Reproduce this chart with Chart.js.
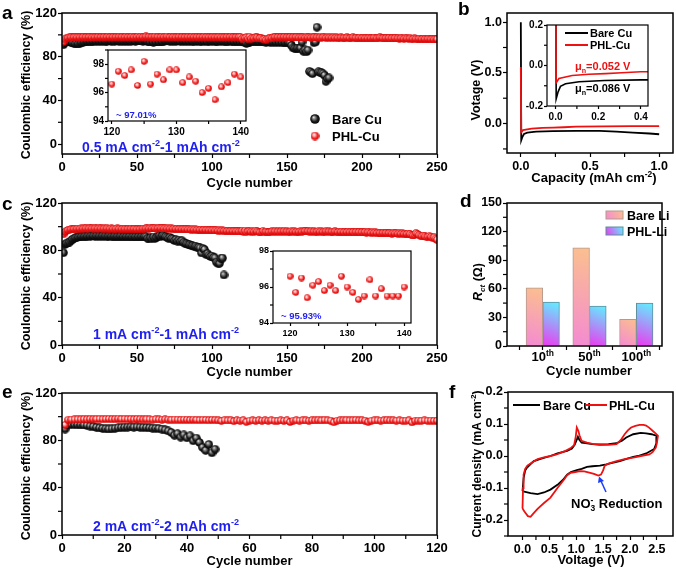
<!DOCTYPE html>
<html>
<head>
<meta charset="utf-8">
<title>Coulombic efficiency of Bare Cu and PHL-Cu</title>
<script src="https://cdn.jsdelivr.net/npm/chart.js@4.4.1/dist/chart.umd.min.js"></script>
<style>
  html, body { margin: 0; padding: 0; background: #fff; }
  #fig { position: relative; width: 676px; height: 571px; overflow: hidden; background: #fff; }
  #fig canvas { position: absolute; left: 0; top: 0; }
</style>
</head>
<body>
<div id="fig">
  <canvas id="chartA" width="676" height="571"></canvas>
  <canvas id="chartB" width="676" height="571"></canvas>
  <canvas id="chartC" width="676" height="571"></canvas>
  <canvas id="chartD" width="676" height="571"></canvas>
  <canvas id="chartE" width="676" height="571"></canvas>
  <canvas id="chartF" width="676" height="571"></canvas>
  <canvas id="insetA" width="676" height="571"></canvas>
  <canvas id="insetB" width="676" height="571"></canvas>
  <canvas id="insetC" width="676" height="571"></canvas>
</div>
<script>
// ---- panel a : 0.5 mA cm-2, 1 mAh cm-2 (CE %, per cycle starting at 1)
const phlCuA = [
  93.5, 95.8, 96.9, 97.3, 97.6, 97.8, 97.6, 97.9, 98.0, 97.7,
  98.0, 97.8, 97.9, 98.1, 97.8, 98.0, 97.9, 98.1, 98.0, 97.8,
  98.1, 97.9, 98.0, 98.2, 97.9, 98.1, 98.0, 98.2, 97.9, 98.1,
  98.3, 98.0, 98.2, 98.1, 97.9, 98.2, 98.0, 98.3, 98.1, 98.2,
  97.9, 98.1, 98.3, 98.0, 98.2, 98.1, 98.4, 98.0, 98.2, 98.1,
  98.5, 98.2, 98.4, 98.1, 98.3, 98.6, 98.2, 98.4, 98.1, 98.3,
  98.2, 98.5, 98.1, 98.3, 98.0, 98.2, 98.4, 98.1, 98.3, 98.5,
  98.2, 98.0, 98.3, 98.1, 98.2, 97.9, 98.1, 98.3, 98.0, 98.2,
  97.9, 98.1, 98.0, 98.2, 97.9, 98.1, 98.3, 98.0, 98.2, 98.1,
  97.9, 98.2, 98.0, 98.1, 98.3, 98.0, 98.2, 97.9, 98.1, 98.0,
  98.2, 97.9, 98.1, 98.0, 98.2, 97.8, 98.1, 97.9, 98.0, 98.2,
  97.9, 98.1, 98.3, 98.0, 97.9, 98.1, 98.0, 98.2, 97.9,
  96.6, 97.5, 97.2, 97.6, 96.5, 98.2, 96.6, 97.3, 96.9, 97.6,
  97.6, 96.7, 97.1, 96.8, 96.0, 96.3, 95.5, 96.4, 96.7, 97.3, 97.1,
  97.9, 98.1, 97.8, 98.0, 97.7, 98.0, 97.8, 98.1, 97.7, 97.9,
  97.8, 98.0, 97.6, 97.9, 97.7, 98.0, 97.8, 97.6, 97.9, 97.7,
  97.8, 97.5, 97.9, 97.6, 97.8, 97.5, 97.7, 97.9, 97.6, 97.8,
  97.5, 97.7, 97.4, 97.8, 97.6, 97.3, 97.7, 97.5, 97.6, 97.4,
  97.7, 97.3, 97.6, 97.4, 97.2, 97.6, 97.3, 97.5, 97.2, 97.6,
  97.3, 97.1, 97.5, 97.8, 97.2, 97.4, 97.0, 97.3, 97.5, 97.1,
  97.3, 97.0, 97.2, 96.9, 97.3, 97.0, 97.2, 97.5, 97.1, 96.9,
  97.4, 97.6, 97.2, 97.0, 96.8, 97.1, 96.9, 97.2, 96.7, 97.0,
  96.8, 97.1, 96.7, 96.9, 96.6, 97.0, 96.8, 96.5, 96.9, 96.7,
  96.5, 96.8, 96.6, 96.4, 96.7, 96.5, 96.3, 96.6, 96.4, 96.2,
  96.5, 96.3, 96.1, 96.4, 96.2, 96.0, 96.3, 95.9, 96.1, 96.0
];
const bareCuA = [
  91.0, 93.0, 93.8, 94.0, 93.6, 93.2, 92.8, 92.3, 92.0, 92.4,
  92.0, 92.5, 92.9, 93.2, 93.5, 93.8, 94.0, 94.2, 94.0, 94.3,
  94.1, 94.4, 94.2, 94.5, 94.3, 94.6, 94.2, 94.5, 94.3, 94.1,
  94.4, 94.6, 94.3, 94.5, 94.2, 94.4, 94.7, 94.3, 94.5, 94.2,
  94.4, 94.1, 94.5, 94.3, 94.6, 94.2, 94.4, 94.7, 94.3, 94.5,
  94.8, 94.4, 94.6, 94.3, 94.9, 94.5, 94.2, 93.8, 93.5, 93.9,
  93.4, 93.8, 93.5, 94.0, 93.6, 94.2, 93.9, 94.3, 94.6, 94.4,
  94.7, 94.3, 94.6, 94.2, 94.5, 94.3, 94.6, 94.4, 94.1, 94.5,
  94.3, 94.6, 94.2, 94.4, 94.1, 94.5, 94.3, 94.0, 94.4, 94.2,
  94.5, 94.1, 94.3, 94.6, 94.2, 94.4, 94.0, 94.3, 94.5, 94.2,
  94.4, 94.1, 94.3, 94.0, 94.4, 94.2, 94.5, 94.1, 94.3, 94.0,
  94.2, 94.4, 94.1, 94.3, 93.9, 94.2, 94.0, 94.3, 93.8, 94.1,
  93.6, 92.8, 92.2, 92.6, 93.4, 94.0, 94.2, 93.9, 94.1, 93.8,
  94.0, 93.7, 94.1, 93.8, 93.5, 92.9, 93.6, 93.9, 93.4, 93.8,
  93.3, 93.7, 93.2, 93.6, 93.1, 93.5, 93.0, 93.4, 92.9, 93.3,
  93.0, 92.6, 90.2, 88.2, 87.8, 87.6, 87.9, 87.5, 88.0, 93.4,
  85.0, 86.2, 84.5, 86.0, 66.6, 65.8, 64.5, 92.8, 93.5, 107.0,
  66.2, 65.7, 65.3, 64.5, 63.0, 57.5, 59.8, 60.6
];

// ---- panel b : voltage-capacity, first Li deposition
const capBare = [0, 0.003, 0.012, 0.023, 0.047, 0.11, 0.23, 0.4, 0.57, 0.69, 0.81, 0.93, 1.0];
const voltBare = [1.0, -0.165, -0.13, -0.103, -0.09, -0.08, -0.074, -0.071, -0.072, -0.08, -0.09, -0.098, -0.105];
const capPhl = [0, 0.003, 0.016, 0.078, 0.156, 0.234, 0.31, 0.4, 0.6, 0.8, 1.0];
const voltPhl = [0.557, -0.085, -0.064, -0.049, -0.043, -0.04, -0.036, -0.031, -0.028, -0.026, -0.026];

// ---- panel c : 1 mA cm-2, 1 mAh cm-2
const phlCuC = [
  93.5, 95.5, 96.6, 97.2, 97.5, 97.8, 98.0, 98.1, 98.2, 98.3,
  98.4, 98.3, 98.5, 98.4, 98.5, 98.6, 98.4, 98.5, 98.6, 98.5,
  98.4, 98.6, 98.5, 98.4, 98.6, 98.5, 98.3, 98.5, 98.4, 98.6,
  98.4, 98.3, 98.5, 98.2, 98.4, 98.3, 98.5, 98.2, 98.3, 98.1,
  98.3, 98.2, 98.0, 98.2, 98.1, 98.3, 98.0, 98.2, 98.1, 97.9,
  98.1, 98.0, 98.2, 98.4, 98.3, 98.5, 98.6, 98.4, 98.7, 98.5,
  98.8, 98.6, 98.4, 98.7, 98.9, 98.6, 98.8, 98.5, 98.7, 98.4,
  98.6, 98.3, 98.5, 98.2, 98.4, 98.1, 98.3, 98.0, 98.2, 97.9,
  98.1, 97.8, 98.0, 97.7, 97.9, 97.6, 97.8, 97.5, 97.7, 97.4,
  97.6, 97.3, 97.5, 97.2, 97.4, 97.1, 97.3, 97.0, 97.2, 96.9,
  97.1, 96.8, 97.0, 96.7, 96.9, 96.6, 96.8, 96.5, 96.7, 96.4,
  96.6, 96.3, 96.5, 96.2, 96.4, 96.1, 96.3, 96.0, 96.2,
  96.6, 95.7, 96.5, 95.4, 96.1, 96.3, 95.8, 96.1, 95.8, 96.6,
  96.0, 95.7, 95.3, 95.5, 96.4, 95.5, 95.9, 95.5, 95.5, 95.5, 96.0,
  95.9, 96.1, 95.8, 96.0, 95.7, 96.1, 95.9, 96.2, 95.8, 96.0,
  95.7, 95.9, 96.1, 95.8, 96.0, 95.6, 95.9, 95.7, 96.0, 95.8,
  96.1, 96.3, 96.0, 96.2, 95.9, 96.1, 95.8, 96.0, 95.7, 95.9,
  96.2, 95.8, 96.0, 95.7, 95.9, 96.1, 95.8, 96.0, 95.6, 95.9,
  95.7, 96.0, 95.8, 95.5, 95.9, 95.6, 95.8, 95.4, 95.7, 95.5,
  95.8, 95.4, 95.7, 95.5, 95.2, 95.6, 95.3, 95.5, 95.1, 95.4,
  95.2, 95.5, 95.0, 95.3, 95.1, 94.8, 95.2, 94.9, 95.1, 94.7,
  95.0, 94.8, 94.5, 94.9, 94.6, 94.8, 94.4, 94.7, 94.5, 94.2,
  94.6, 94.3, 94.5, 94.1, 94.4, 94.0, 94.3, 93.9, 94.1, 93.8,
  94.2, 93.7, 93.0, 92.6, 93.2, 94.5, 93.8, 92.9, 92.4, 92.0,
  92.5, 91.8, 91.2, 91.6, 92.0, 91.4, 90.6, 91.0, 89.8, 89.0
];
const bareCuC = [
  78.0, 85.0, 86.0, 86.3, 87.0, 88.2, 89.3, 90.0, 90.6, 91.0,
  91.3, 91.6, 91.8, 91.9, 92.0, 92.1, 92.0, 92.2, 92.1, 92.3,
  92.2, 92.0, 92.3, 92.1, 92.2, 92.0, 92.3, 92.1, 92.2, 91.9,
  92.1, 92.2, 92.0, 91.8, 92.1, 91.9, 92.0, 91.8, 92.1, 91.9,
  91.7, 92.0, 91.8, 91.6, 91.9, 91.7, 91.5, 91.8, 91.6, 91.4,
  91.7, 91.5, 91.8, 91.6, 91.9, 91.5, 90.3, 89.8, 90.6, 89.9,
  91.2, 90.0, 90.8, 92.0, 92.5, 91.8, 92.6, 92.2, 91.6, 91.0,
  90.2, 91.0, 90.0, 89.5, 88.3, 89.0, 87.8, 88.6, 87.5, 88.1,
  86.8, 86.0, 85.6, 85.0, 84.8, 84.2, 84.0, 83.4, 83.6, 82.8,
  82.6, 82.0, 77.8, 81.5, 80.6, 76.5, 77.2, 75.8, 74.8, 75.2,
  74.0, 73.6, 70.0, 69.2, 69.0, 72.8, 73.5, 59.2
];

// ---- panel d : charge-transfer resistance
const rctCycles = ['10th', '50th', '100th'];
const rctBareLi = [61, 103, 28];
const rctPhlLi = [46, 42, 45];

// ---- panel e : 2 mA cm-2, 2 mAh cm-2
const phlCuE = [
  93.0, 97.4, 97.6, 97.7, 97.8, 97.7, 97.9, 97.8, 98.0, 97.9,
  98.0, 98.1, 97.9, 98.0, 98.1, 97.9, 98.0, 98.2, 98.0, 98.1,
  97.9, 98.0, 97.8, 98.0, 97.9, 97.7, 97.9, 97.8, 97.6, 97.8,
  97.7, 97.5, 97.7, 97.6, 97.4, 97.6, 97.5, 97.3, 97.5, 97.4,
  97.2, 97.4, 97.3, 97.1, 97.3, 97.2, 97.0, 97.2, 97.1, 96.9,
  96.4, 97.0, 96.8, 96.9, 96.2, 96.8, 96.7, 96.9, 95.6, 96.7,
  96.8, 96.6, 96.9, 96.7, 96.8, 96.6, 96.9, 96.7, 96.5, 96.8,
  96.6, 96.8, 95.5, 96.7, 96.9, 96.7, 96.9, 96.8, 96.6, 96.9,
  96.8, 97.0, 96.8, 97.1, 96.9, 96.7, 95.3, 96.6, 96.8, 96.9,
  97.0, 96.8, 96.9, 97.1, 96.8, 96.9, 96.7, 95.6, 96.6, 96.8,
  96.9, 96.7, 96.8, 97.0, 96.8, 96.9, 96.7, 96.8, 96.6, 96.7,
  96.8, 95.2, 96.5, 96.7, 96.6, 96.8, 96.6, 96.7, 96.5, 96.6
];
const bareCuE = [
  89.5, 93.2, 93.4, 93.3, 93.2, 93.1, 93.0, 92.6, 92.1, 91.6,
  91.0, 90.5, 90.1, 89.8, 89.6, 89.8, 90.2, 90.6, 90.9, 91.1,
  91.2, 91.3, 91.2, 91.3, 91.1, 91.0, 90.8, 90.6, 90.3, 90.2,
  90.0, 89.5, 88.8, 87.9, 86.6, 84.3, 85.6, 82.7, 84.6, 82.1,
  83.8, 79.6, 81.9, 78.2, 74.0, 71.5, 76.5, 69.5, 72.5
];

// ---- panel f : CV, voltage (V) / current density (mA cm-2)
const cvVoltBare = [0.0, 0.02, 0.05, 0.08, 0.15, 0.21, 0.35, 0.52, 0.65, 0.83, 0.92, 0.97, 1.0, 1.03, 1.06, 1.1, 1.17, 1.3, 1.44, 1.6, 1.75, 1.85, 1.93, 2.06, 2.2, 2.3, 2.4, 2.5,
  2.49, 2.45, 2.3, 2.15, 2.06, 1.95, 1.81, 1.65, 1.56, 1.44, 1.3, 1.2, 1.1, 1.01, 0.9, 0.83, 0.75, 0.65, 0.52, 0.4, 0.28, 0.15, 0.05, 0.0];
const cvCurBare = [-0.11, -0.07, -0.045, -0.037, -0.025, -0.016, -0.008, 0.0, 0.008, 0.016, 0.023, 0.035, 0.047, 0.06, 0.05, 0.042, 0.04, 0.037, 0.036, 0.037, 0.04, 0.048, 0.058, 0.068, 0.072, 0.071, 0.068, 0.063,
  0.04, 0.022, 0.008, 0.0, -0.003, -0.008, -0.016, -0.022, -0.026, -0.03, -0.032, -0.034, -0.04, -0.044, -0.05, -0.058, -0.075, -0.09, -0.105, -0.114, -0.119, -0.116, -0.112, -0.11];
const cvVoltPhl = [0.0, 0.01, 0.02, 0.05, 0.09, 0.18, 0.28, 0.4, 0.52, 0.62, 0.71, 0.8, 0.89, 0.96, 0.99, 1.01, 1.04, 1.06, 1.1, 1.2, 1.3, 1.44, 1.6, 1.75, 1.83, 1.9, 1.96, 2.02, 2.1, 2.18, 2.25, 2.3, 2.36, 2.42, 2.48, 2.52,
  2.5, 2.48, 2.42, 2.36, 2.2, 2.06, 1.9, 1.75, 1.6, 1.53, 1.5, 1.46, 1.41, 1.33, 1.26, 1.15, 1.07, 0.98, 0.89, 0.83, 0.77, 0.65, 0.52, 0.4, 0.28, 0.2, 0.15, 0.1, 0.06, 0.02, 0.0];
const cvCurPhl = [-0.163, -0.1, -0.058, -0.04, -0.03, -0.02, -0.01, -0.004, 0.0, 0.004, 0.01, 0.016, 0.024, 0.034, 0.06, 0.089, 0.078, 0.065, 0.047, 0.042, 0.038, 0.035, 0.035, 0.037, 0.05, 0.068, 0.08, 0.089, 0.094, 0.097, 0.097, 0.095, 0.088, 0.079, 0.07, 0.063,
  0.04, 0.026, 0.012, 0.005, 0.0, -0.005, -0.01, -0.016, -0.024, -0.03, -0.045, -0.058, -0.061, -0.056, -0.053, -0.048, -0.047, -0.05, -0.053, -0.06, -0.074, -0.1, -0.13, -0.147, -0.165, -0.18, -0.19, -0.188, -0.179, -0.17, -0.163];

// ---- axis ticks (all tick marks, and the ones that carry a label)
const ceTicks = [0, 20, 40, 60, 80, 100, 120];
const ceLabels = [0, 40, 80, 120];
const cyc250Ticks = [0, 25, 50, 75, 100, 125, 150, 175, 200, 225, 250];
const cyc250Labels = [0, 50, 100, 150, 200, 250];
const cyc120Ticks = [0, 10, 20, 30, 40, 50, 60, 70, 80, 90, 100, 110, 120];
const cyc120Labels = [0, 20, 40, 60, 80, 100, 120];
const insetCycTicks = [120, 125, 130, 135, 140];
const insetCycLabels = [120, 130, 140];
const voltTicksB = [-0.25, 0, 0.25, 0.5, 0.75, 1.0];
const voltLabelsB = [0, 0.5, 1.0];
const capTicksB = [0, 0.25, 0.5, 0.75, 1.0];
const capLabelsB = [0, 0.5, 1.0];
const rctTicks = [0, 15, 30, 45, 60, 75, 90, 105, 120, 135, 150];
const rctLabels = [0, 30, 60, 90, 120, 150];
const cvVoltTicks = [0, 0.25, 0.5, 0.75, 1.0, 1.25, 1.5, 1.75, 2.0, 2.25, 2.5];
const cvVoltLabels = [0, 0.5, 1.0, 1.5, 2.0, 2.5];
const cvCurTicks = [-0.25, -0.2, -0.15, -0.1, -0.05, 0, 0.05, 0.1, 0.15, 0.2];
const cvCurLabels = [-0.2, -0.1, 0, 0.1, 0.2];

const FONT = '"Liberation Sans", Arial, Helvetica, sans-serif';
const BLUE = '#1f1ff0';
const RED = '#ee1111';
const W = 676, H = 571;

Chart.defaults.font.family = FONT;
Chart.defaults.font.weight = 'bold';
Chart.defaults.font.size = 13;
Chart.defaults.color = '#000';
Chart.defaults.animation = false;
Chart.defaults.responsive = false;
Chart.defaults.plugins.legend.display = false;
Chart.defaults.plugins.tooltip.enabled = false;

// shaded ball markers like the Origin "sphere" symbol
function sphere(d, stops) {
  const c = document.createElement('canvas');
  c.width = c.height = d;
  const g = c.getContext('2d');
  const r = d / 2;
  const grad = g.createRadialGradient(r * 0.7, r * 0.62, 0, r, r, r);
  stops.forEach(([o, col]) => grad.addColorStop(o, col));
  g.fillStyle = grad;
  g.beginPath();
  g.arc(r, r, r - 0.2, 0, Math.PI * 2);
  g.fill();
  return c;
}
const blackStops = [[0, '#f4f4f4'], [0.28, '#8a8a8a'], [0.65, '#1c1c1c'], [1, '#000']];
const redStops = [[0, '#ffffff'], [0.3, '#ffb4b4'], [0.68, '#f21a1a'], [1, '#cc0000']];
const ballK = sphere(9, blackStops);
const ballR = sphere(8, redStops);
const ballRs = sphere(7, redStops);
const ballKL = sphere(10, blackStops);
const ballRL = sphere(9, redStops);

const pts = (xs, ys) => ys.map((y, i) => ({ x: xs[i], y }));
const cycles = n => Array.from({ length: n }, (_, i) => i + 1);
const near = (list, v) => list.some(l => Math.abs(l - v) < 1e-9);

// put the plot area at page coordinates L,T,R,B
function place(L, T, R, B, yw, xh) {
  return { padding: { left: L - yw, top: T, right: W - R, bottom: H - B - xh } };
}

// Chart.js draws the labelled ticks, the deco plugin adds the minor ones
function axis(pos, min, max, ticks, labels, digits, size, fs, tl = 4) {
  const horiz = pos === 'bottom';
  const shown = labels.length ? labels : ticks;
  const minor = ticks.filter(v => !near(shown, v));
  return {
    type: 'linear', position: pos, min, max, offset: false,
    afterFit: s => {
      if (horiz) s.height = size; else s.width = size;
      s.paddingLeft = s.paddingRight = s.paddingTop = s.paddingBottom = 0;
    },
    afterBuildTicks: s => { s.ticks = shown.map(v => ({ value: v })); },
    afterUpdate: s => { s.$minor = minor; s.$tl = tl; },
    ticks: {
      autoSkip: false, maxRotation: 0, minRotation: 0, padding: horiz ? 2 : 1,
      color: '#000', font: { size: fs, weight: 'bold' },
      callback: v => near(labels, v) ? v.toFixed(digits) : ''
    },
    grid: { drawOnChartArea: false, offset: false, tickLength: tl, tickColor: '#000', tickWidth: 1.2 },
    border: { display: false }
  };
}

// text with super/subscripts: parts [{t, s:'sup'|'sub', u: sup over sub, i: italic}]
function rich(ctx, parts, x, y, size, color, align = 'left', rot = 0) {
  const sm = size * 0.65;
  const f = (s, it) => (it ? 'italic ' : '') + 'bold ' + s + 'px ' + FONT;
  ctx.save();
  ctx.translate(x, y);
  ctx.rotate(rot);
  ctx.fillStyle = color;
  ctx.textAlign = 'left';
  ctx.textBaseline = 'alphabetic';
  const widths = parts.map(p => {
    ctx.font = f(p.s ? sm : size, p.i);
    let w = ctx.measureText(p.t).width;
    if (p.u) w = Math.max(w, ctx.measureText(p.u).width);
    return w;
  });
  const total = widths.reduce((a, b) => a + b, 0);
  let cx = align === 'center' ? -total / 2 : align === 'right' ? -total : 0;
  parts.forEach((p, k) => {
    ctx.font = f(p.s ? sm : size, p.i);
    if (!p.s) ctx.fillText(p.t, cx, 0);
    else if (p.s === 'sup') ctx.fillText(p.t, cx, -size * 0.42);
    else {
      ctx.fillText(p.t, cx, size * 0.24);
      if (p.u) ctx.fillText(p.u, cx, -size * 0.42);
    }
    cx += widths[k];
  });
  ctx.restore();
}
const txt = t => [{ t }];
const yTitle = (ctx, parts, xc, yc, size) => rich(ctx, parts, xc + size * 0.36, yc, size, '#000', 'center', -Math.PI / 2);
const letter = (ctx, l, x, y) => rich(ctx, txt(l), x, y, 19, '#000');
const line = (ctx, x0, x1, y, col) => {
  ctx.save(); ctx.strokeStyle = col; ctx.lineWidth = 2;
  ctx.beginPath(); ctx.moveTo(x0, y); ctx.lineTo(x1, y); ctx.stroke(); ctx.restore();
};

function deco(draw, opts = {}) {
  return {
    id: 'deco',
    beforeDraw(chart) {
      if (!opts.fill) return;
      const { ctx, chartArea: a } = chart;
      ctx.save(); ctx.fillStyle = '#fff'; ctx.fillRect(a.left, a.top, a.width, a.height); ctx.restore();
    },
    afterDraw(chart) {
      const { ctx, chartArea: a } = chart;
      ctx.save();
      ctx.strokeStyle = '#000';
      ctx.lineWidth = 1.2;
      Object.values(chart.scales).forEach(s => {
        (s.$minor || []).forEach(v => {
          const p = s.getPixelForValue(v);
          ctx.beginPath();
          if (s.isHorizontal()) { ctx.moveTo(p, a.bottom); ctx.lineTo(p, a.bottom + s.$tl); }
          else { ctx.moveTo(a.left - s.$tl, p); ctx.lineTo(a.left, p); }
          ctx.stroke();
        });
      });
      ctx.lineWidth = opts.lw || 1.5;
      ctx.strokeRect(a.left, a.top, a.width, a.height);
      ctx.restore();
      if (draw) draw(ctx, chart);
    }
  };
}

const ceSeries = (phl, bare) => [
  { label: 'PHL-Cu', data: pts(cycles(phl.length), phl), pointStyle: ballR, pointRadius: 4 },
  { label: 'Bare Cu', data: pts(cycles(bare.length), bare), pointStyle: ballK, pointRadius: 4.5 }
];
const cmLabel = (a, b) => [{ t: a + ' mA cm' }, { t: '-2', s: 'sup' }, { t: '-' + b + ' mAh cm' }, { t: '-2', s: 'sup' }];

// ---------- a
new Chart(document.getElementById('chartA'), {
  type: 'scatter',
  data: { datasets: ceSeries(phlCuA, bareCuA) },
  options: {
    layout: place(62, 13, 437, 154, 40, 26),
    scales: {
      x: axis('bottom', 0, 250, cyc250Ticks, cyc250Labels, 0, 26, 13),
      y: axis('left', -9, 120, ceTicks, ceLabels, 0, 40, 13)
    }
  },
  plugins: [deco((ctx) => {
    letter(ctx, 'a', 2, 19);
    yTitle(ctx, txt('Coulombic efficiency (%)'), 25, 85, 12.5);
    rich(ctx, txt('Cycle number'), 249.5, 187, 13, '#000', 'center');
    ctx.drawImage(ballKL, 310, 114);
    rich(ctx, txt('Bare Cu'), 332, 123.5, 13, '#000');
    ctx.drawImage(ballRL, 310.5, 131.5);
    rich(ctx, txt('PHL-Cu'), 332, 140.5, 13, '#000');
    rich(ctx, cmLabel('0.5', '1'), 82, 151.5, 14, BLUE);
  })]
});

new Chart(document.getElementById('insetA'), {
  type: 'scatter',
  data: { datasets: [{ data: pts(cycles(phlCuA.length).slice(119, 140), phlCuA.slice(119, 140)), pointStyle: ballRs, pointRadius: 3.5 }] },
  options: {
    layout: place(108, 50, 246, 121, 20, 16),
    scales: {
      x: axis('bottom', 119.4, 140.8, insetCycTicks, insetCycLabels, 0, 16, 10, 3),
      y: axis('left', 94, 99, [94, 95, 96, 97, 98, 99], [94, 96, 98], 0, 20, 10, 3)
    }
  },
  plugins: [deco((ctx) => {
    rich(ctx, txt('~ 97.01%'), 116, 117.5, 9.5, BLUE);
  }, { fill: true, lw: 1.2 })]
});

// ---------- b
const bLines = [
  { data: pts(capPhl, voltPhl), showLine: true, borderColor: RED, borderWidth: 1.8, pointRadius: 0 },
  { data: pts(capBare, voltBare), showLine: true, borderColor: '#000', borderWidth: 1.8, pointRadius: 0 }
];
new Chart(document.getElementById('chartB'), {
  type: 'scatter',
  data: { datasets: bLines },
  options: {
    layout: place(507, 13, 673, 153, 30, 26),
    scales: {
      x: axis('bottom', -0.1, 1.1, capTicksB, capLabelsB, 1, 26, 12.5),
      y: axis('left', -0.29, 1.09, voltTicksB, voltLabelsB, 1, 30, 12.5)
    }
  },
  plugins: [deco((ctx) => {
    letter(ctx, 'b', 458, 15);
    yTitle(ctx, txt('Votage (V)'), 475, 90, 12.5);
    rich(ctx, [{ t: 'Capacity (mAh cm' }, { t: '-2', s: 'sup' }, { t: ')' }], 594, 182, 13, '#000', 'center');
  })]
});

new Chart(document.getElementById('insetB'), {
  type: 'scatter',
  data: { datasets: bLines.map(d => Object.assign({}, d, { borderWidth: 1.6 })) },
  options: {
    layout: place(547, 25, 648, 106, 22, 18),
    scales: {
      x: axis('bottom', -0.04, 0.433, [0, 0.1, 0.2, 0.3, 0.4], [0, 0.2, 0.4], 1, 18, 10, 3),
      y: axis('left', -0.2, 0.2, [-0.2, -0.1, 0, 0.1, 0.2], [-0.2, 0, 0.2], 1, 22, 10, 3)
    }
  },
  plugins: [deco((ctx) => {
    line(ctx, 565, 588, 33, '#000');
    rich(ctx, txt('Bare Cu'), 590, 37, 11, '#000');
    line(ctx, 565, 588, 45, RED);
    rich(ctx, txt('PHL-Cu'), 590, 49, 11, '#000');
    rich(ctx, [{ t: 'μ' }, { t: 'n', s: 'sub' }, { t: '=0.052 V' }], 575, 70, 11, RED);
    rich(ctx, [{ t: 'μ' }, { t: 'n', s: 'sub' }, { t: '=0.086 V' }], 575, 92, 11, '#000');
  }, { fill: true, lw: 1.2 })]
});

// ---------- c
new Chart(document.getElementById('chartC'), {
  type: 'scatter',
  data: { datasets: ceSeries(phlCuC, bareCuC) },
  options: {
    layout: place(62, 203, 437, 345, 40, 26),
    scales: {
      x: axis('bottom', 0, 250, cyc250Ticks, cyc250Labels, 0, 26, 13),
      y: axis('left', 0, 120, ceTicks, ceLabels, 0, 40, 13)
    }
  },
  plugins: [deco((ctx) => {
    letter(ctx, 'c', 2, 210);
    yTitle(ctx, txt('Coulombic efficiency (%)'), 25, 276, 12.5);
    rich(ctx, txt('Cycle number'), 249.5, 376, 13, '#000', 'center');
    rich(ctx, cmLabel('1', '1'), 93, 339, 14, BLUE);
  })]
});

new Chart(document.getElementById('insetC'), {
  type: 'scatter',
  data: { datasets: [{ data: pts(cycles(phlCuC.length).slice(119, 140), phlCuC.slice(119, 140)), pointStyle: ballRs, pointRadius: 3.5 }] },
  options: {
    layout: place(273, 251, 411, 323, 20, 16),
    scales: {
      x: axis('bottom', 117, 141.2, insetCycTicks, insetCycLabels, 0, 16, 9, 3),
      y: axis('left', 94, 98, [94, 95, 96, 97, 98], [94, 96, 98], 0, 20, 9, 3)
    }
  },
  plugins: [deco((ctx) => {
    rich(ctx, txt('~ 95.93%'), 281, 318.5, 9.5, BLUE);
  }, { fill: true, lw: 1.2 })]
});

// ---------- d
const BW = 16.7;
function barFill(c0, c1, side) {
  return c => {
    const chart = c.chart;
    if (!chart.chartArea || c.type !== 'data') return c0;
    const xs = chart.scales.x, ys = chart.scales.y;
    const xc = xs.getPixelForValue(c.raw.x) + side * BW / 2;
    const g = chart.ctx.createLinearGradient(xc + BW / 2, ys.getPixelForValue(c.raw.y), xc - BW / 2, ys.getPixelForValue(0));
    g.addColorStop(0, c0);
    g.addColorStop(1, c1);
    return g;
  };
}
const rctX = rctCycles.map((_, i) => i + 1);
new Chart(document.getElementById('chartD'), {
  type: 'bar',
  data: { datasets: [
    { label: 'Bare Li', data: pts(rctX, rctBareLi), backgroundColor: barFill('#fbc08e', '#f48ad2', -1), borderColor: '#b59a8c', borderWidth: 1, barThickness: BW },
    { label: 'PHL-Li', data: pts(rctX, rctPhlLi), backgroundColor: barFill('#5ef2ff', '#ee38f0', 1), borderColor: '#5a8f9c', borderWidth: 1, barThickness: BW }
  ] },
  options: {
    layout: place(507, 203, 662, 346, 30, 26),
    scales: {
      x: axis('bottom', 0.236, 3.55, [0.5, 1, 1.5, 2, 2.5, 3, 3.5], [], 0, 26, 12.5),
      y: axis('left', 0, 150, rctTicks, rctLabels, 0, 30, 12.5)
    }
  },
  plugins: [deco((ctx, chart) => {
    letter(ctx, 'd', 460, 207);
    yTitle(ctx, [{ t: 'R', i: true }, { t: 'ct', s: 'sub', i: true }, { t: ' (Ω)' }], 477, 282, 12.5);
    rctCycles.forEach((lab, i) => {
      const m = lab.match(/^(\d+)(\D+)$/);
      rich(ctx, [{ t: m[1] }, { t: m[2], s: 'sup' }], chart.scales.x.getPixelForValue(rctX[i]), 361, 13, '#000', 'center');
    });
    rich(ctx, txt('Cycle number'), 589, 375, 13, '#000', 'center');
    [['Bare Li', '#fbc08e', '#f48ad2', '#b59a8c', 211], ['PHL-Li', '#5ef2ff', '#ee38f0', '#5a8f9c', 227]].forEach(([lab, c0, c1, bc, y]) => {
      const g = ctx.createLinearGradient(623, y, 606, y + 8);
      g.addColorStop(0, c0); g.addColorStop(1, c1);
      ctx.save(); ctx.fillStyle = g; ctx.fillRect(606, y, 17, 8);
      ctx.strokeStyle = bc; ctx.lineWidth = 1; ctx.strokeRect(606, y, 17, 8); ctx.restore();
      rich(ctx, txt(lab), 627, y + 8.5, 12.5, '#000');
    });
  })]
});

// ---------- e
new Chart(document.getElementById('chartE'), {
  type: 'scatter',
  data: { datasets: ceSeries(phlCuE, bareCuE) },
  options: {
    layout: place(62, 393, 437, 535, 40, 26),
    scales: {
      x: axis('bottom', 0, 120, cyc120Ticks, cyc120Labels, 0, 26, 13),
      y: axis('left', 0, 120, ceTicks, ceLabels, 0, 40, 13)
    }
  },
  plugins: [deco((ctx) => {
    letter(ctx, 'e', 2, 398);
    yTitle(ctx, txt('Coulombic efficiency (%)'), 25, 466, 12.5);
    rich(ctx, txt('Cycle number'), 249.5, 565, 13, '#000', 'center');
    rich(ctx, cmLabel('2', '2'), 93, 530.5, 14, BLUE);
  })]
});

// ---------- f
new Chart(document.getElementById('chartF'), {
  type: 'scatter',
  data: { datasets: [
    { label: 'PHL-Cu', data: pts(cvVoltPhl, cvCurPhl), showLine: true, borderColor: RED, borderWidth: 1.8, pointRadius: 0 },
    { label: 'Bare Cu', data: pts(cvVoltBare, cvCurBare), showLine: true, borderColor: '#000', borderWidth: 1.8, pointRadius: 0 }
  ] },
  options: {
    layout: place(508, 392, 673, 536, 30, 26),
    scales: {
      x: axis('bottom', -0.27, 2.8, cvVoltTicks, cvVoltLabels, 1, 26, 12.5),
      y: axis('left', -0.25, 0.2, cvCurTicks, cvCurLabels, 1, 30, 12.5)
    }
  },
  plugins: [deco((ctx) => {
    letter(ctx, 'f', 449, 398);
    yTitle(ctx, [{ t: 'Current density (mA cm' }, { t: '-2', s: 'sup' }, { t: ')' }], 477, 464, 12);
    rich(ctx, txt('Voltage (V)'), 591, 564, 13, '#000', 'center');
    line(ctx, 513, 540, 405, '#000');
    rich(ctx, txt('Bare Cu'), 543, 409.5, 12.5, '#000');
    line(ctx, 586, 607, 405, RED);
    rich(ctx, txt('PHL-Cu'), 609, 409.5, 12.5, '#000');
    // arrow to the NO3- reduction shoulder
    ctx.save();
    ctx.strokeStyle = '#1a3cff'; ctx.fillStyle = '#1a3cff'; ctx.lineWidth = 1.5;
    ctx.beginPath(); ctx.moveTo(606, 492); ctx.lineTo(601, 481); ctx.stroke();
    ctx.beginPath(); ctx.moveTo(599, 476.5); ctx.lineTo(598, 483); ctx.lineTo(604, 481); ctx.closePath(); ctx.fill();
    ctx.restore();
    rich(ctx, [{ t: 'NO' }, { t: '3', s: 'sub', u: '-' }, { t: ' Reduction' }], 571, 508, 13, '#000');
  })]
});
</script>
</body>
</html>
